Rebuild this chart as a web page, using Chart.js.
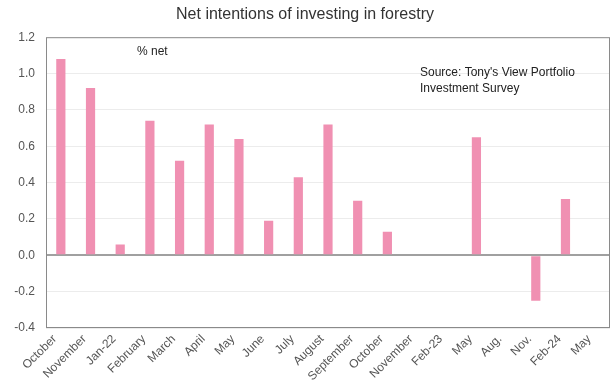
<!DOCTYPE html>
<html>
<head>
<meta charset="utf-8">
<script src="https://cdn.jsdelivr.net/npm/chart.js@4"></script>
<style>
  html, body { margin: 0; padding: 0; background: #fff; }
  #wrap { width: 611px; height: 392px; }
</style>
</head>
<body>
<div id="wrap"><canvas id="chart" width="611" height="392"></canvas></div>
<script>
// survey rounds, oldest first
const labels = ['October', 'November', 'Jan-22', 'February', 'March', 'April', 'May', 'June', 'July',
  'August', 'September', 'October', 'November', 'Feb-23', 'May', 'Aug.', 'Nov.', 'Feb-24', 'May'];

// net % intending to invest in forestry (null = no reading)
const netIntentions = [1.08, 0.92, 0.06, 0.74, 0.52, 0.72, 0.64, 0.19, 0.43,
  0.72, 0.30, 0.13, null, null, 0.65, null, -0.25, 0.31, null];

const yTicks = [-0.4, -0.2, 0.0, 0.2, 0.4, 0.6, 0.8, 1.0, 1.2];

const FONT = '"Liberation Sans", Arial, sans-serif';

// frame around plot area + the two text notes
const frameAndNotes = {
  id: 'frameAndNotes',
  afterDraw(chart) {
    const { ctx, chartArea: a } = chart;
    ctx.save();
    ctx.strokeStyle = '#8a8a8a';
    ctx.lineWidth = 1;
    ctx.strokeRect(a.left + 0.5, a.top + 0.5, a.right - a.left - 1, a.bottom - a.top - 1);
    ctx.fillStyle = '#222';
    ctx.font = '12px ' + FONT;
    ctx.textBaseline = 'middle';
    ctx.fillText('% net', a.left + 91, a.top + 14);
    ctx.fillText("Source: Tony's View Portfolio", a.left + 374, a.top + 35);
    ctx.fillText('Investment Survey', a.left + 374, a.top + 51);
    ctx.restore();
  }
};

new Chart(document.getElementById('chart'), {
  type: 'bar',
  data: {
    labels: labels,
    datasets: [{
      data: netIntentions,
      backgroundColor: '#f090b2',
      barPercentage: 0.31,
      categoryPercentage: 1.0
    }]
  },
  options: {
    responsive: false,
    animation: false,
    layout: { padding: { left: 0, right: 1, top: 0, bottom: 0 } },
    plugins: {
      legend: { display: false },
      tooltip: { enabled: false },
      title: {
        display: true,
        text: 'Net intentions of investing in forestry',
        color: '#333',
        font: { family: FONT, size: 16, weight: 'normal' },
        padding: { top: 5, bottom: 13 }
      }
    },
    scales: {
      x: {
        grid: { display: false },
        border: { display: false },
        ticks: {
          color: '#555',
          font: { family: FONT, size: 12 },
          maxRotation: 45,
          minRotation: 45,
          autoSkip: false,
          padding: -4,
          labelOffset: -6
        },
        afterFit(axis) { axis.height = 64; }
      },
      y: {
        min: -0.4,
        max: 1.2,
        afterBuildTicks(axis) { axis.ticks = yTicks.map(v => ({ value: v })); },
        border: { display: false },
        grid: {
          drawTicks: false,
          color: ctx => ctx.tick && Math.abs(ctx.tick.value) < 1e-9 ? '#a0a0a0' : '#ececec',
          lineWidth: ctx => ctx.tick && Math.abs(ctx.tick.value) < 1e-9 ? 2 : 1
        },
        ticks: {
          color: '#555',
          font: { family: FONT, size: 12 },
          padding: 11,
          callback: v => v.toFixed(1)
        },
        afterFit(axis) { axis.width = 46; }
      }
    }
  },
  plugins: [frameAndNotes]
});
</script>
</body>
</html>
